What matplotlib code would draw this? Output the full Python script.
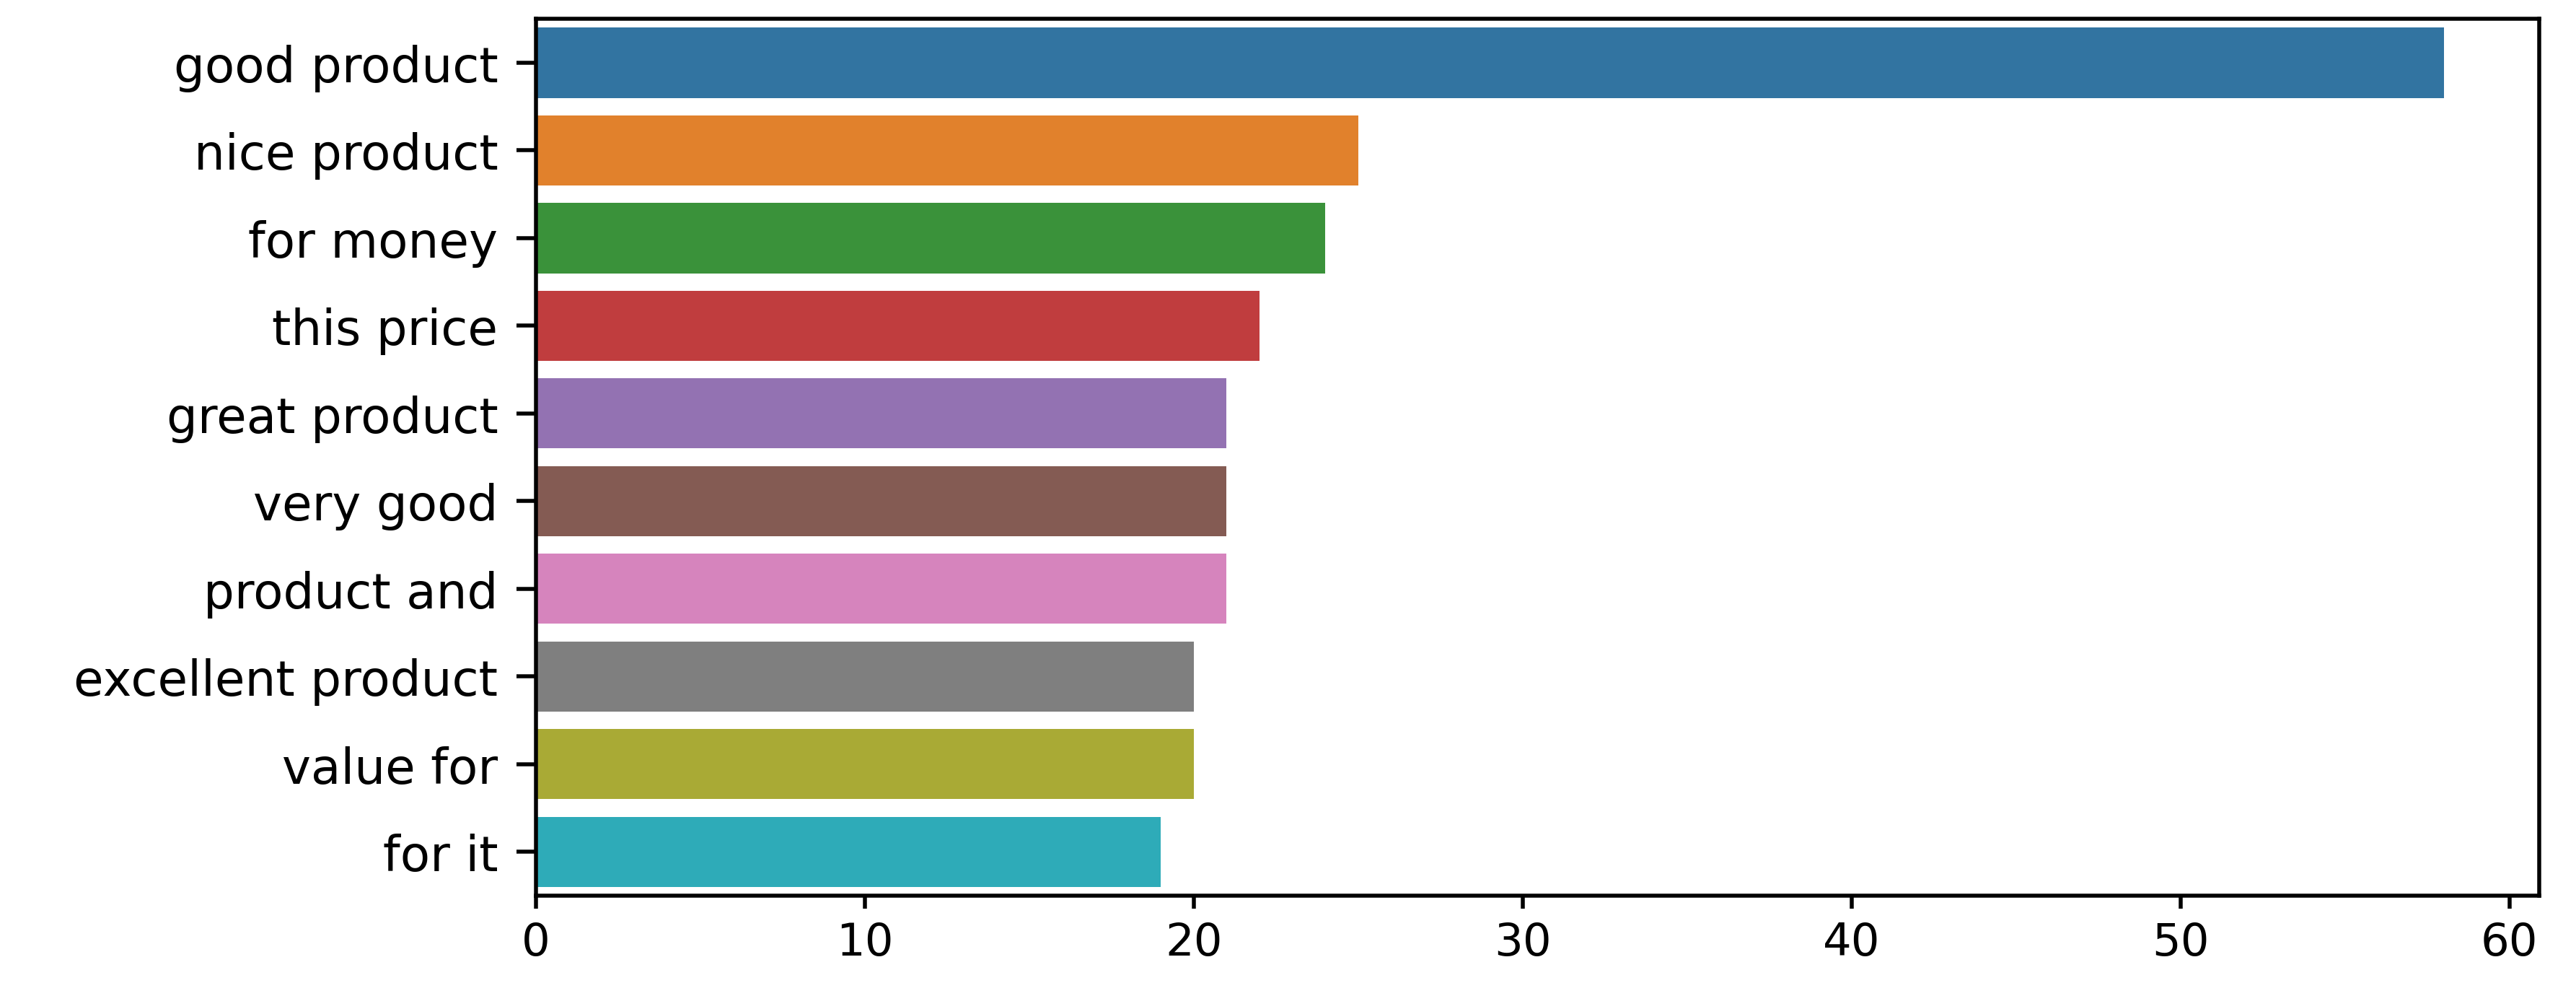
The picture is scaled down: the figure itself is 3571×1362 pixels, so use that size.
import matplotlib
matplotlib.use("Agg")
import matplotlib.pyplot as plt
import seaborn as sns

phrases = ["good product", "nice product", "for money", "this price", "great product",
           "very good", "product and", "excellent product", "value for", "for it"]
counts = [58, 25, 24, 22, 21, 21, 21, 20, 20, 19]

fig, ax = plt.subplots(figsize=(9.922, 3.786), dpi=360)
fig.subplots_adjust(left=0.208, right=0.9854, top=0.980, bottom=0.0888)

sns.barplot(x=counts, y=phrases, hue=phrases, palette="tab10", legend=False, ax=ax)
ax.set_xlim(0, 60.9)

# the reference picture looks stretched sideways, so the labels are a bit bigger
ax.tick_params(axis="y", labelsize=13.5, length=5.5, width=1.1, pad=5)
ax.tick_params(axis="x", labelsize=12.5, length=3.5, width=1.1, pad=3.5)
for s in ax.spines.values():
    s.set_linewidth(1.1)

fig.savefig("out.png", dpi=360)
